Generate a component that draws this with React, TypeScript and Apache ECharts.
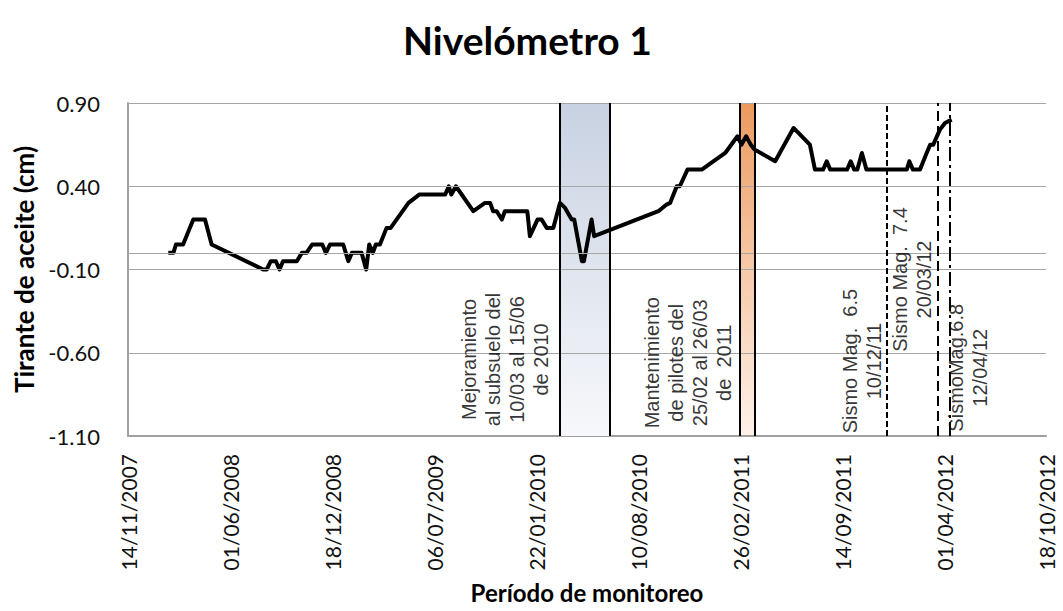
import React, { useEffect, useRef } from "react";
import * as echarts from "echarts";

// ---- data ----
const dates = [
  "2008-02-01", "2008-02-11", "2008-02-16", "2008-03-01", "2008-03-21", "2008-04-13", "2008-04-26",
  "2008-08-05", "2008-08-12", "2008-08-20", "2008-08-30", "2008-09-06", "2008-09-13", "2008-10-10",
  "2008-10-20", "2008-10-29", "2008-11-09", "2008-11-29", "2008-12-06", "2008-12-14", "2009-01-09",
  "2009-01-19", "2009-01-26", "2009-02-14", "2009-02-23", "2009-03-01", "2009-03-08", "2009-03-14",
  "2009-03-22", "2009-04-04", "2009-04-12", "2009-05-17", "2009-06-07", "2009-07-28", "2009-08-04",
  "2009-08-09", "2009-08-18", "2009-09-21", "2009-10-14", "2009-10-24", "2009-10-30", "2009-11-06",
  "2009-11-16", "2009-11-22", "2010-01-05", "2010-01-10", "2010-01-25", "2010-02-02", "2010-02-12",
  "2010-02-25", "2010-03-10", "2010-03-20", "2010-04-02", "2010-04-07", "2010-04-22", "2010-04-26",
  "2010-05-05", "2010-05-11", "2010-05-16", "2010-09-19", "2010-10-05", "2010-10-12", "2010-10-25",
  "2010-10-31", "2010-11-15", "2010-12-13", "2011-01-28", "2011-02-21", "2011-03-01", "2011-03-10",
  "2011-03-19", "2011-03-27", "2011-05-06", "2011-06-11", "2011-07-13", "2011-07-23", "2011-08-08",
  "2011-08-15", "2011-08-22", "2011-09-24", "2011-10-01", "2011-10-08", "2011-10-14", "2011-10-23",
  "2011-11-01", "2012-01-19", "2012-01-24", "2012-01-31", "2012-02-14", "2012-02-27", "2012-03-05",
  "2012-03-11", "2012-03-24", "2012-04-03", "2012-04-16",
];
const values = [
  0.0, 0.0, 0.05, 0.05, 0.2, 0.2, 0.05,
  -0.1, -0.1, -0.05, -0.05, -0.1, -0.05, -0.05,
  0.0, 0.0, 0.05, 0.05, 0.0, 0.05, 0.05,
  -0.05, 0.0, 0.0, -0.1, 0.05, 0.0, 0.05,
  0.05, 0.15, 0.15, 0.3, 0.35, 0.35, 0.4,
  0.35, 0.4, 0.25, 0.3, 0.3, 0.25, 0.25,
  0.2, 0.25, 0.25, 0.1, 0.2, 0.2, 0.15,
  0.15, 0.3, 0.27, 0.2, 0.2, -0.05, -0.05,
  0.1, 0.2, 0.1, 0.25, 0.29, 0.3, 0.4,
  0.4, 0.5, 0.5, 0.6, 0.7, 0.65, 0.7,
  0.65, 0.62, 0.55, 0.75, 0.65, 0.5, 0.5,
  0.55, 0.5, 0.5, 0.55, 0.5, 0.5, 0.6,
  0.5, 0.5, 0.55, 0.5, 0.5, 0.6, 0.65,
  0.65, 0.74, 0.78, 0.8,
];

const xStart = "2007-11-14";
const xEnd = "2012-10-18";
const xStepDays = 200;
const yTickLabels = [-1.1, -0.6, -0.1, 0.4, 0.9];
const yGridLevels = [-0.6, -0.1, 0, 0.4, 0.9];
const yMin = -1.1;
const yMax = 0.9;

const blueBand = ["2010-03-10", "2010-06-15"];
const orangeBand = ["2011-02-25", "2011-03-26"];
const quakeDates = ["2011-12-10", "2012-03-20", "2012-04-12"];

const annotationTexts = [
  "Mejoramiento\nal subsuelo del\n10/03 al 15/06\nde 2010",
  "Mantenimiento\nde pilotes del\n25/02 al 26/03\nde  2011",
  "Sismo Mag.  6.5\n10/12/11",
  "Sismo Mag.  7.4\n20/03/12",
  "SismoMag.6.8\n12/04/12",
];
const annotationDates = ["2009-11-22", "2010-11-16", "2011-10-23", "2012-01-29", "2012-05-18"];
const annotationValues = [-0.64, -0.66, -0.65, -0.16, -0.69];

// ---- helpers ----
const toSerial = (iso: string) => {
  const [y, m, d] = iso.split("-").map(Number);
  return Date.UTC(y, m - 1, d) / 86400000 + 25569;
};
const serialToLabel = (s: number) => {
  const dt = new Date((s - 25569) * 86400000);
  const dd = String(dt.getUTCDate()).padStart(2, "0");
  const mm = String(dt.getUTCMonth() + 1).padStart(2, "0");
  return `${dd}/${mm}/${dt.getUTCFullYear()}`;
};

const quakeStyles = [
  { type: [6, 3] as any, width: 2 },
  { type: [10, 5] as any, width: 2 },
  { type: [14, 4, 3, 4] as any, width: 2 },
];

export default function App() {
  const ref = useRef<HTMLDivElement>(null);
  useEffect(() => {
    if (!ref.current) return;
    const chart = echarts.init(ref.current, undefined, { renderer: "svg" });
    const lineData = dates.map((d, i) => [toSerial(d), values[i]]);
    const blueGrad = new echarts.graphic.LinearGradient(0, 0, 0, 1, [
      { offset: 0, color: "#c8d2e2" },
      { offset: 1, color: "#f7f8fb" },
    ]);
    const orangeGrad = new echarts.graphic.LinearGradient(0, 0, 0, 1, [
      { offset: 0, color: "rgba(228,120,40,0.75)" },
      { offset: 1, color: "rgba(240,140,70,0.12)" },
    ]);
    const option: any = {
      animation: false,
      backgroundColor: "#ffffff",
      title: {
        text: "Nivelómetro 1",
        left: 398,
        top: 15,
        textStyle: { fontFamily: "Lato", fontWeight: "bold", fontSize: 39, color: "#000" },
      },
      grid: {
        left: 128,
        right: 17,
        top: 103,
        bottom: 175,
        containLabel: false,
        outerBoundsMode: "none",
      },
      xAxis: {
        type: "value",
        min: toSerial(xStart),
        max: toSerial(xEnd),
        interval: xStepDays,
        name: "Período de monitoreo",
        nameLocation: "middle",
        nameGap: 144,
        nameTextStyle: { fontFamily: "Lato", fontWeight: "bold", fontSize: 24, color: "#000" },
        axisLine: { show: true, onZero: false, lineStyle: { color: "#a0a0a0", width: 2 } },
        axisTick: { show: false },
        splitLine: { show: false },
        axisLabel: {
          rotate: 90,
          margin: 18,
          fontFamily: "Lato",
          fontSize: 21,
          color: "#111",
          formatter: (v: number) => serialToLabel(v),
        },
      },
      yAxis: {
        type: "value",
        min: yMin,
        max: yMax,
        name: "Tirante de aceite (cm)",
        nameLocation: "middle",
        nameGap: 88,
        nameTextStyle: { fontFamily: "Lato", fontWeight: "bold", fontSize: 26, color: "#000" },
        axisLine: { show: true, lineStyle: { color: "#a0a0a0", width: 2 } },
        axisTick: { show: false },
        splitLine: { show: false },
        axisLabel: {
          customValues: yTickLabels,
          margin: 28,
          fontFamily: "Lato",
          fontSize: 22,
          color: "#111",
          formatter: (v: number) => v.toFixed(2),
        },
      },
      series: [
        {
          name: "bandBlue",
          type: "line",
          data: [],
          z: 1,
          silent: true,
          markArea: {
            silent: true,
            itemStyle: { color: blueGrad },
            data: [[{ xAxis: toSerial(blueBand[0]) }, { xAxis: toSerial(blueBand[1]) }]],
          },
        },
        {
          name: "grid",
          type: "line",
          data: [],
          z: 2,
          silent: true,
          markLine: {
            silent: true,
            symbol: "none",
            label: { show: false },
            lineStyle: { color: "#a6a6a6", width: 1, type: "solid" },
            data: yGridLevels.map((v) => ({ yAxis: v })),
          },
        },
        {
          name: "Nivelómetro 1",
          type: "line",
          data: lineData,
          z: 3,
          showSymbol: false,
          symbol: "none",
          lineStyle: { color: "#000", width: 4, join: "round" },
        },
        {
          name: "bandOrange",
          type: "line",
          data: [],
          z: 5,
          silent: true,
          markArea: {
            silent: true,
            itemStyle: { color: orangeGrad },
            data: [[{ xAxis: toSerial(orangeBand[0]) }, { xAxis: toSerial(orangeBand[1]) }]],
          },
        },
        {
          name: "verticals",
          type: "line",
          data: [],
          z: 6,
          silent: true,
          markLine: {
            silent: true,
            symbol: "none",
            label: { show: false },
            data: [
              ...[...blueBand, ...orangeBand].map((d) => ({
                xAxis: toSerial(d),
                lineStyle: { color: "#000", width: 2, type: "solid" },
              })),
              ...quakeDates.map((d, i) => ({
                xAxis: toSerial(d),
                lineStyle: { color: "#000", width: quakeStyles[i].width, type: quakeStyles[i].type },
              })),
            ],
          },
        },
        {
          name: "annotations",
          type: "scatter",
          z: 7,
          silent: true,
          symbolSize: 1,
          itemStyle: { color: "rgba(0,0,0,0)" },
          data: annotationTexts.map((t, i) => ({
            value: [toSerial(annotationDates[i]), annotationValues[i]],
            label: { formatter: t },
          })),
          label: {
            show: true,
            position: "inside",
            rotate: 90,
            align: "center",
            verticalAlign: "middle",
            fontFamily: "Liberation Sans",
            fontSize: 20,
            lineHeight: 24,
            color: "#000",
          },
        },
      ],
    };
    chart.setOption(option);
    return () => chart.dispose();
  }, []);
  return (
    <div
      ref={ref}
      style={{ position: "fixed", left: 0, top: 0, width: 1063, height: 611, background: "#fff" }}
    />
  );
}
